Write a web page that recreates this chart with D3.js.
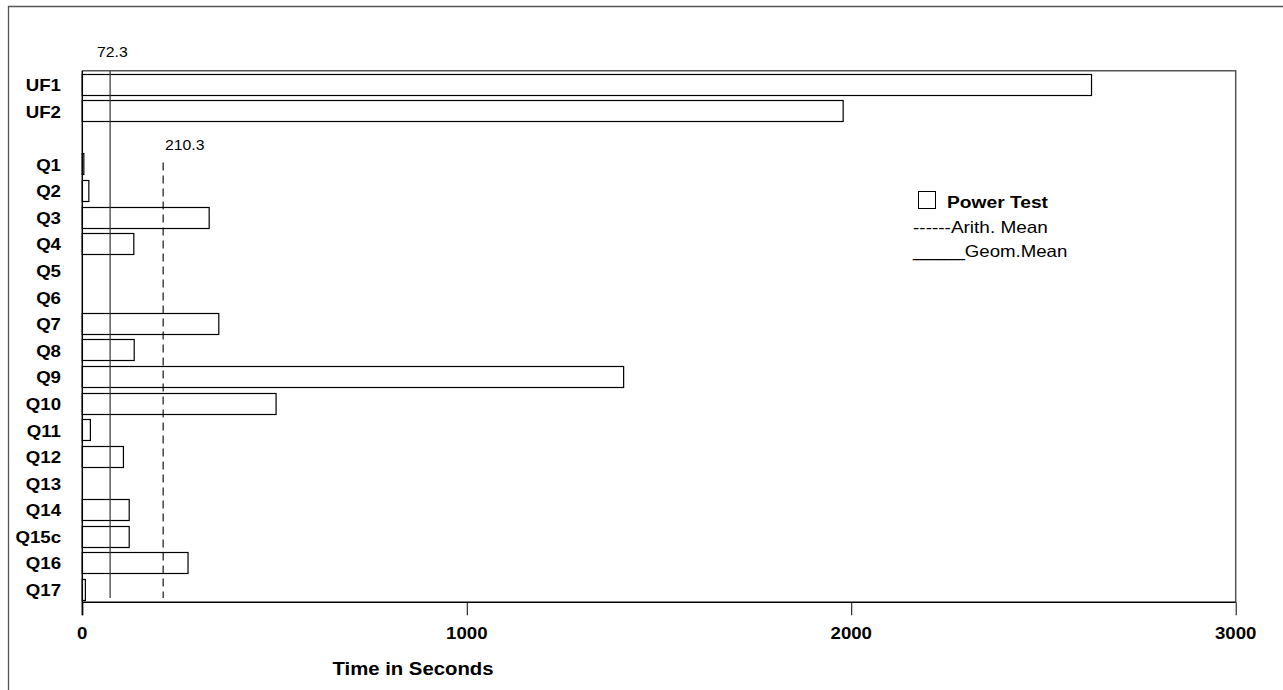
<!DOCTYPE html>
<html lang="en">
  <head>
    <meta charset="UTF-8" />
    <title>power test</title>
    <script src="https://cdn.jsdelivr.net/npm/d3@7"></script>
    <style>
      body { margin: 0; background: #fff; }
      text { font-family: "Liberation Sans", Arial, sans-serif; fill: #000; }
    </style>
  </head>
  <body>
    <svg id="chart" width="1283" height="690"></svg>
    <script>
      // query names and times (seconds)
      let queries = ["UF1", "UF2", "Q1", "Q2", "Q3", "Q4", "Q5", "Q6", "Q7", "Q8",
                     "Q9", "Q10", "Q11", "Q12", "Q13", "Q14", "Q15c", "Q16", "Q17"];
      let seconds = [2625, 1979, 4, 17, 330, 134, 0, 0, 355, 135,
                     1408, 504, 21, 107, 0, 122, 122, 275, 8];
      let xTicks = [0, 1000, 2000, 3000];
      let geomMean = 72.3;
      let arithMean = 210.3;

      let svg = d3.select("#chart");
      let sx = 1.13; // text in the picture is a bit wide

      function label(x, y, str, size, weight, anchor) {
        svg.append("g")
          .attr("transform", `translate(${x},${y}) scale(${sx},1)`)
          .append("text")
          .attr("text-anchor", anchor || "start")
          .style("font-size", size + "px")
          .style("font-weight", weight || "normal")
          .text(str);
      }

      // outer frame (only left and top show)
      svg.append("path")
        .attr("d", "M8.5,700V6.5H1300")
        .attr("fill", "none").attr("stroke", "#555").attr("stroke-width", 1.3);

      let pLeft = 82.3, pRight = 1235.7, pTop = 70.7, pBottom = 602.3;

      // empty slot between the UF rows and the queries
      let slots = queries.slice(0, 2).concat(["gap"], queries.slice(2));

      let x = d3.scaleLinear().domain([0, 3000]).range([pLeft, pRight]);
      let y = d3.scaleBand().domain(slots).range([pTop, pBottom])
        .paddingInner(0.225).paddingOuter(0.1125);

      // plot box: top and right
      svg.append("path")
        .attr("d", `M${pLeft},${pTop}H${pRight}V${pBottom}`)
        .attr("fill", "none").attr("stroke", "#555").attr("stroke-width", 1.5);

      // bars
      svg.append("g").selectAll("rect")
        .data(queries.map((q, i) => ({ q: q, v: seconds[i] })).filter(d => d.v > 0))
        .join("rect")
        .attr("x", x(0))
        .attr("y", d => Math.round(y(d.q)) + 0.5)
        .attr("width", d => x(d.v) - x(0))
        .attr("height", Math.round(y.bandwidth()))
        .attr("fill", "#fff")
        .attr("stroke", "#000")
        .attr("stroke-width", 1.2);

      // mean lines
      svg.append("line")
        .attr("x1", x(geomMean)).attr("x2", x(geomMean))
        .attr("y1", pTop).attr("y2", 598)
        .attr("stroke", "#333").attr("stroke-width", 1.2);
      svg.append("line")
        .attr("x1", x(arithMean)).attr("x2", x(arithMean))
        .attr("y1", y("Q1") + 9).attr("y2", 598)
        .attr("stroke", "#000").attr("stroke-width", 1.1)
        .attr("stroke-dasharray", "8,5");
      label(97, 57, d3.format(".1f")(geomMean), 14);
      label(165, 150, d3.format(".1f")(arithMean), 14);

      // x axis
      let xAxis = svg.append("g").attr("transform", `translate(0,${pBottom})`)
        .call(d3.axisBottom(x).tickValues(xTicks).tickSize(13).tickFormat(""));
      xAxis.select(".domain").attr("d", `M${pLeft},0H${pRight}`).attr("stroke", "#000").attr("stroke-width", 1.5);
      xAxis.selectAll(".tick line").attr("stroke", "#000");
      xTicks.forEach(t => label(x(t), 639, d3.format("d")(t), 16.5, "bold", "middle"));
      label(413, 675, "Time in Seconds", 18, "bold", "middle");

      // y axis line
      svg.append("line")
        .attr("x1", pLeft).attr("x2", pLeft)
        .attr("y1", pTop).attr("y2", pBottom + 13)
        .attr("stroke", "#000").attr("stroke-width", 1.5);
      queries.forEach(q => label(61, y(q) + y.bandwidth() / 2 + 7, q, 16.5, "bold", "end"));

      // legend
      svg.append("rect")
        .attr("x", 918.5).attr("y", 191.5).attr("width", 17).attr("height", 17)
        .attr("fill", "#fff").attr("stroke", "#000");
      label(947, 208, "Power Test", 17, "bold");
      label(913, 233, "------Arith. Mean", 16.8);
      label(913, 257, "_____Geom.Mean", 16.5);
    </script>
  </body>
</html>
